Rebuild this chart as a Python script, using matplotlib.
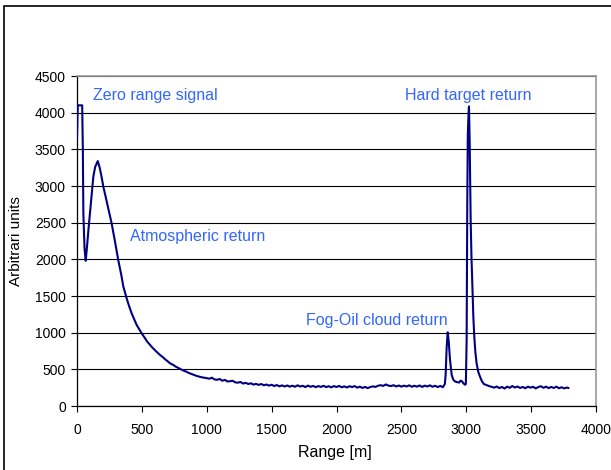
import matplotlib
matplotlib.use("Agg")
import matplotlib.pyplot as plt
from matplotlib.patches import Rectangle

plt.rcParams['font.family'] = ['Liberation Sans', 'DejaVu Sans']

### data ###

# near field: zero range signal and atmospheric return
r_near = [0, 6, 40, 45, 49, 58, 67, 75, 90, 110, 126, 140, 160, 175, 190, 203,
          220, 240, 267, 290, 318, 340, 357, 380, 400, 421, 440, 460, 480, 498,
          520, 540, 563, 580, 600, 620, 640, 660, 680, 700, 717, 740, 760, 780,
          800, 819, 840, 860, 880, 900, 922, 940, 960, 980, 1000]
v_near = [3650, 4100, 4100, 3500, 2630, 2150, 1980, 2130, 2440, 2830, 3130, 3260,
          3340, 3250, 3120, 2990, 2860, 2700, 2490, 2270, 1990, 1800, 1630, 1485,
          1370, 1265, 1185, 1105, 1045, 992, 935, 880, 832, 798, 762, 728, 696,
          668, 636, 608, 582, 562, 538, 520, 503, 484, 470, 452, 438, 424, 410,
          402, 392, 386, 380]

# far field background
r_mid = list(range(1020, 2821, 20)) + [2835]
v_mid = [372, 386, 362, 358, 368, 345, 356, 334, 338, 344, 322, 318, 328, 306,
         316, 300, 310, 292, 302, 288, 300, 282, 293, 278, 290, 272, 286, 268,
         281, 266, 280, 264, 277, 262, 282, 265, 276, 258, 278, 262, 274, 256,
         272, 260, 276, 258, 270, 254, 272, 259, 274, 255, 268, 252, 270, 258,
         272, 250, 264, 246, 260, 244, 258, 268, 260, 276, 284, 274, 294, 278,
         272, 284, 266, 280, 264, 278, 266, 282, 262, 276, 264, 280, 260, 278,
         266, 282, 262, 276, 258, 274, 256, 300]

# fog-oil cloud and hard target
r_peaks = [2841, 2849, 2857, 2865, 2875, 2888, 2900, 2913, 2930, 2945, 2955,
           2965, 2978, 2990, 2997, 3003, 3008, 3012, 3018, 3021, 3026, 3034,
           3040, 3047, 3055, 3062, 3070, 3080, 3092, 3106, 3120, 3135, 3157, 3175]
v_peaks = [420, 800, 1005, 880, 627, 420, 360, 335, 325, 320, 345, 340, 310,
           290, 300, 900, 2800, 3700, 4000, 4085, 3650, 2540, 2050, 1630, 1200,
           945, 740, 580, 470, 400, 340, 300, 285, 272]

# tail after target
r_tail = [3195, 3215, 3235, 3255, 3275, 3295, 3315, 3335, 3355, 3375, 3395,
          3415, 3435, 3455, 3475, 3495, 3515, 3535, 3555, 3575, 3595, 3615,
          3635, 3655, 3675, 3695, 3715, 3735, 3755, 3775, 3787]
v_tail = [262, 250, 266, 244, 260, 238, 264, 248, 272, 252, 266, 246, 260, 242,
          264, 250, 262, 240, 258, 270, 248, 264, 244, 260, 246, 264, 242, 256,
          240, 252, 246]

rng = r_near + r_mid + r_peaks + r_tail
sig = v_near + v_mid + v_peaks + v_tail

### plot ###

fig = plt.figure(figsize=(6.11, 4.70), dpi=100)
ax = fig.add_axes([77/611, 1-406/470, 519/611, 330/470])

ax.plot(rng, sig, color="#000080", linewidth=1.5, zorder=3)

ax.set_xlim(0, 4000)
ax.set_ylim(0, 4500)
ax.set_xticks(range(0, 4001, 500))
ax.set_yticks(range(0, 4501, 500))
ax.yaxis.grid(True, color="black", linewidth=0.8)
ax.set_axisbelow(True)
ax.tick_params(direction="out", length=4, width=0.8, labelsize=10, colors="black")
ax.tick_params(axis="x", pad=8)
ax.tick_params(axis="y", pad=4)

for s in ["top", "right"]:
    ax.spines[s].set_color("#999999")
    ax.spines[s].set_linewidth(1.2)
for s in ["left", "bottom"]:
    ax.spines[s].set_color("black")
    ax.spines[s].set_linewidth(0.9)

lbl = dict(color="#3366FF", fontsize=11.5, va="center", ha="left")
ax.text(123, 4230, "Zero range signal", **lbl)
ax.text(408, 2305, "Atmospheric return", **lbl)
ax.text(1765, 1160, "Fog-Oil cloud return", **lbl)
ax.text(2528, 4230, "Hard target return", **lbl)

fig.text(335/611, 1-452/470, "Range [m]", ha="center", va="center", fontsize=11.5)
fig.text(16/611, 1-241/470, "Arbitrari units", ha="center", va="center",
         rotation=90, fontsize=11)

# chart frame, cut off at right and bottom
fig.patches.append(Rectangle((4/611, -0.2), 1.2, 1.2 - 6/470, transform=fig.transFigure,
                             fill=False, edgecolor="black", linewidth=1.2))

fig.savefig("out.png", dpi=100)
